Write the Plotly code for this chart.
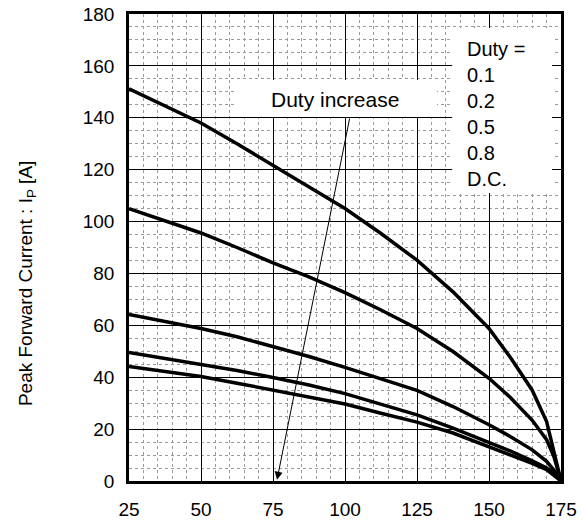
import plotly.graph_objects as go

# Case temperature (x) and peak forward current (y) for each duty
temp = [25, 50, 62.5, 75, 87.5, 100, 112.5, 125, 137.5, 150, 157.5, 165, 170, 172.5, 175]
duty_01 = [151.2, 138, 130, 121.7, 113.6, 105, 95.4, 85.1, 72.9, 58.8, 47.5, 35, 22.9, 11.5, 0]
duty_02 = [105, 95.6, 90, 84.1, 78.7, 72.6, 65.9, 58.8, 49.9, 39.6, 32.1, 23.4, 15.9, 9.5, 0]
duty_05 = [64.2, 58.8, 55.6, 51.8, 48, 43.8, 39.2, 34.9, 28.7, 21.7, 17.1, 12, 7.6, 4.2, 0]
duty_08 = [49.5, 45, 42.6, 39.9, 37, 33.7, 29.7, 25.5, 20.4, 15, 11.5, 7.8, 5.0, 2.8, 0]
duty_dc = [44.1, 40.3, 37.7, 35.1, 32.6, 29.7, 26.1, 22.7, 18.5, 13.3, 10.2, 6.8, 4.4, 2.4, 0]

series = [duty_01, duty_02, duty_05, duty_08, duty_dc]
legend_labels = ["Duty =", "0.1", "0.2", "0.5", "0.8", "D.C."]
x_ticks = [25, 50, 75, 100, 125, 150, 175]
y_ticks = [0, 20, 40, 60, 80, 100, 120, 140, 160, 180]

FONT = "Liberation Sans, Arial, sans-serif"

fig = go.Figure()
for s in series:
    fig.add_trace(go.Scatter(x=temp, y=s, mode="lines",
                             line=dict(color="black", width=3.5),
                             showlegend=False, hoverinfo="skip"))

# white boxes over the grid
fig.add_shape(type="rect", xref="x", yref="y", x0=61.8, x1=131.9, y0=140.3, y1=154.6,
              fillcolor="white", line=dict(width=0), layer="between")
fig.add_shape(type="rect", xref="x", yref="y", x0=137.2, x1=171.9, y0=111.0, y1=174.6,
              fillcolor="white", line=dict(width=0), layer="between")

fig.add_annotation(x=96.5, y=147.0, xref="x", yref="y", text="Duty increase",
                   showarrow=False, font=dict(family=FONT, size=21, color="black"))

for i, lab in enumerate(legend_labels):
    fig.add_annotation(x=141.8, y=166.5 - 10 * i, xref="x", yref="y", text=lab,
                       showarrow=False, xanchor="left", yanchor="middle",
                       font=dict(family=FONT, size=20, color="black"))

# arrow
fig.add_annotation(x=76.4, y=0.5, ax=101.7, ay=140.3, xref="x", yref="y",
                   axref="x", ayref="y", text="", showarrow=True,
                   arrowhead=2, arrowsize=1.6, arrowwidth=1, arrowcolor="black")

# y axis title
fig.add_annotation(x=-0.236, y=0.4218, xref="paper", yref="paper",
                   text="Peak Forward Current : I<sub>P</sub> [A]", textangle=-90,
                   showarrow=False, xanchor="center", yanchor="middle",
                   font=dict(family=FONT, size=19, color="black"))

axis_common = dict(showline=True, mirror=True, linecolor="black", linewidth=2.5,
                   showgrid=True, gridcolor="black", gridwidth=1, zeroline=False,
                   automargin=False, ticks="", ticklabeloverflow="allow",
                   tickfont=dict(family=FONT, size=19, color="black"))

fig.update_xaxes(range=[25, 175], tickvals=x_ticks, ticklabelstandoff=9,
                 minor=dict(dtick=5, tick0=25, showgrid=True, gridcolor="#9a9a9a",
                            griddash="dot", gridwidth=1),
                 **axis_common)
fig.update_yaxes(range=[0, 180], tickvals=y_ticks, ticklabelstandoff=8,
                 minor=dict(dtick=5, tick0=0, showgrid=True, gridcolor="#9a9a9a",
                            griddash="dot", gridwidth=1),
                 **axis_common)

# page has an 8px body margin, so the margins are shifted to compensate
fig.update_layout(width=585, height=521, margin=dict(l=121, r=32, t=6, b=48),
                  plot_bgcolor="white", paper_bgcolor="white")

fig.write_html("out.html")
